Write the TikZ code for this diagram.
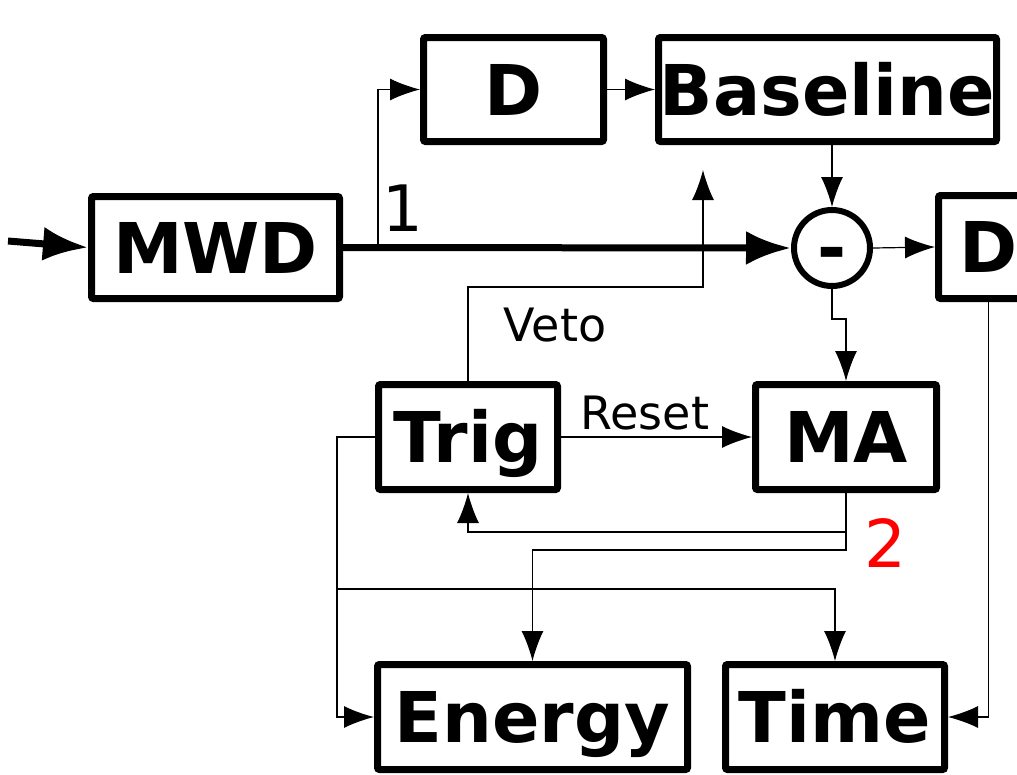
\documentclass[tikz,border=0pt]{standalone}
\usepackage{fontspec}
\setmainfont{DejaVu Sans}
\usetikzlibrary{arrows.meta}

\begin{document}
\begin{tikzpicture}[x=1pt, y=-1pt,
  block/.style={draw, line width=7pt, rounded corners=2pt, inner sep=0pt,
    text height=51pt, text depth=0pt,
    font=\bfseries\fontsize{70}{80}\selectfont},
  wire/.style={line width=1.2pt, -{Latex[length=30pt,width=22pt]}},
  bus/.style={line width=7pt, -{Latex[length=45pt,width=34pt]}},
  lbl/.style={inner sep=0pt, font=\fontsize{46}{50}\selectfont}]

  \useasboundingbox (0,0) rectangle (1017,774);

  % Blocks
  \node[block, minimum width=248, minimum height=102] (MWD) at (215.5,247.5) {MWD};
  \node[block, minimum width=180, minimum height=104] (D) at (513.5,89.5) {D};
  \node[block, minimum width=338, minimum height=104] (Base) at (827.5,89.5) {Baseline};
  \node[draw, circle, line width=6pt, minimum size=76, inner sep=0pt,
    text height=20pt, text depth=20pt,
    font=\bfseries\fontsize{70}{80}\selectfont] (sub) at (832,248) {\raisebox{-24pt}{-}};
  \node[block, minimum width=100, minimum height=103] (Dr) at (988.5,247) {D};
  \node[block, minimum width=179, minimum height=105] (Trig) at (468,437) {Trig};
  \node[block, minimum width=181, minimum height=105] (MA) at (846,437) {MA};
  \node[block, minimum width=310, minimum height=105] (Energy) at (532.5,717) {Energy};
  \node[block, minimum width=219, minimum height=105] (Time) at (835,717) {Time};

  % Free ends
  \coordinate (in) at (8,241);
  \coordinate (fork) at (378,248);
  \coordinate (vetotip) at (703,170);
  \coordinate (tap) at (337,589);

  % Main path
  \draw[bus] (in) -- (MWD.west);
  \draw[bus] (MWD.east) -- (sub.west);
  \draw[wire] (fork) |- (D.west);
  \draw[wire] (D.east) -- (Base.west);
  \draw[wire] (Base.south -| sub.north) -- (sub.north);
  \draw[wire] (sub.east) -- (Dr.west);

  % Trigger and filter
  \draw[wire] (Trig.north) -- ++(0,-94) -| (vetotip);
  \draw[wire] (sub.south) -- ++(0,30) -| (MA.north);
  \draw[wire] (Trig.east) -- (MA.west);
  \draw[wire] (MA.south) -- ++(0,39) -| (Trig.south);
  \draw[wire] (MA.south) -- ++(0,57) -| (Energy.north);
  \draw[wire] (Trig.west) -- ++(-38,0) |- (Energy.west);
  \draw[wire] (tap) -| (Time.north);
  \draw[wire] (Dr.south) |- (Time.east);

  % Labels
  \node[lbl, font=\fontsize{64}{70}\selectfont] (one) at (403,208) {1};
  \node[lbl] (veto) at (555,325) {Veto};
  \node[lbl] (reset) at (645,413) {Reset};
  \node[lbl, red, font=\fontsize{66}{70}\selectfont] (two) at (885,543) {2};

\end{tikzpicture}
\end{document}
